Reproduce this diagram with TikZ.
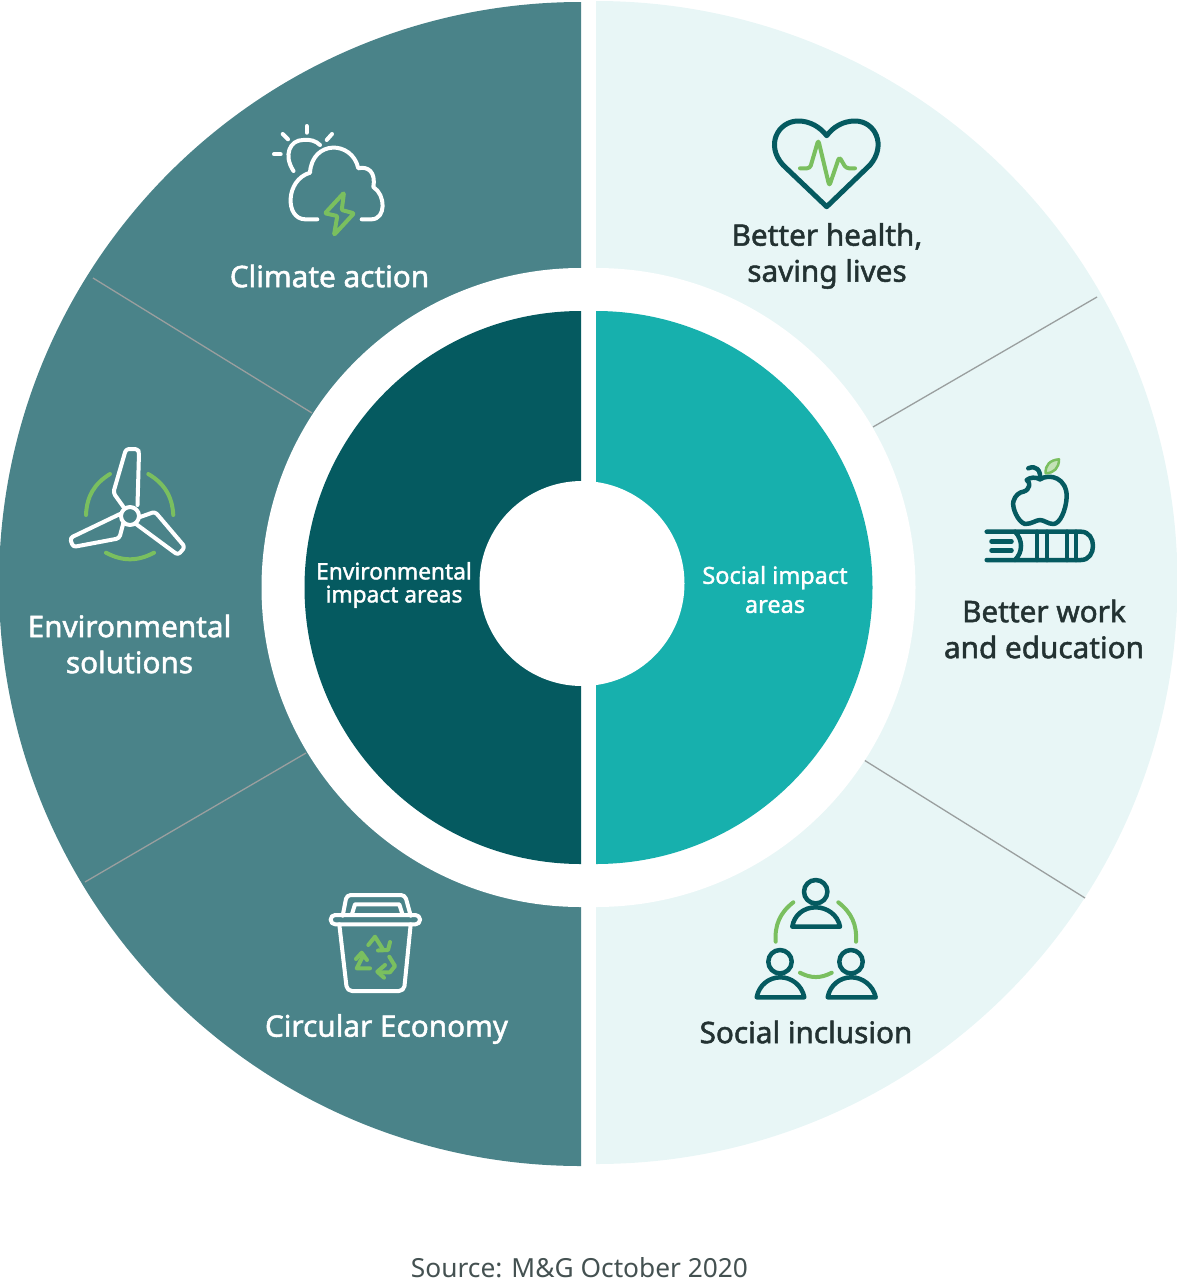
\documentclass[tikz,border=0pt]{standalone}
\usepackage{fontspec}
\setmainfont{Noto Sans}
\newfontfamily\labelfont{Noto Sans}[FakeBold=1.6]
\definecolor{envouter}{HTML}{4A8389}
\definecolor{envinner}{HTML}{055A60}
\definecolor{socouter}{HTML}{E8F6F6}
\definecolor{socinner}{HTML}{17B0AD}
\definecolor{leaf}{HTML}{7ABF5F}
\definecolor{labeltext}{HTML}{233232}
\definecolor{sepline}{HTML}{9A9F9F}
\tikzset{
  sep/.style={draw=sepline,line width=1.3pt},
  bigtext/.style={font=\labelfont\fontsize{29.7}{36}\selectfont,align=center,text=labeltext},
  smalltext/.style={font=\labelfont\fontsize{22.7}{23}\selectfont,align=center,text=white},
  whiteicon/.style={draw=white,line width=4pt,line cap=round,line join=round},
  darkicon/.style={draw=envinner,line width=4.5pt,line cap=round,line join=round},
  greenicon/.style={draw=leaf,line width=4pt,line cap=round,line join=round},
}
\begin{document}
\begin{tikzpicture}[x=1pt,y=-1pt]
  \useasboundingbox (0,0) rectangle (1177,1280);
  % the two outer halves
  \fill[envouter] (581,2) arc[start angle=-90,end angle=-270,radius=582] -- cycle;
  \fill[socouter] (596,1) arc[start angle=-90,end angle=90,radius=581.5] -- cycle;
  % separators
  \coordinate (ul1) at (93,278);
  \coordinate (ul2) at (312,413);
  \coordinate (ll1) at (85,882);
  \coordinate (ll2) at (306,753);
  \coordinate (ur1) at (1097,297);
  \coordinate (ur2) at (873,427);
  \coordinate (lr1) at (1085,898);
  \coordinate (lr2) at (864,760);
  \draw[sep] (ul1) -- (ul2);
  \draw[sep] (ll1) -- (ll2);
  \draw[sep] (ur1) -- (ur2);
  \draw[sep] (lr1) -- (lr2);
  % white ring
  \fill[white] (581,268) arc[start angle=-90,end angle=-270,radius=319.5] -- cycle;
  \fill[white] (596,268) arc[start angle=-90,end angle=90,radius=319.5] -- cycle;
  \fill[white] (580.5,268) rectangle (596.5,907);
  % inner halves
  \fill[envinner] (581,311) arc[start angle=-90,end angle=-270,radius=276.5] -- cycle;
  \fill[socinner] (596,311) arc[start angle=-90,end angle=90,radius=276.5] -- cycle;
  \fill[white] (582,583.5) circle (102.5);
  % labels
  \node[bigtext,text=white] (climate) at (329.5,276) {Climate action};
  \node[bigtext,text=white] (solutions) at (129.5,644) {Environmental\\solutions};
  \node[bigtext,text=white] (circular) at (386.5,1029) {Circular Economy};
  \node[bigtext] (health) at (827,256) {Better health,\\saving lives};
  \node[bigtext] (work) at (1044,629) {Better work\\and education};
  \node[bigtext] (inclusion) at (806,1032) {Social inclusion};
  \node[smalltext] (envareas) at (394,585) {Environmental\\impact areas};
  \node[smalltext,font=\labelfont\fontsize{23.5}{29}\selectfont] (socareas) at (775,589.5) {Social impact\\areas};
  \node[inner sep=0pt,font=\fontsize{26.3}{28}\selectfont,text=labeltext!85] (source) at (579.5,1268) {Source: M\&G October 2020};
  % climate icon
  \draw[whiteicon] (274,154.3) -- (280.7,154.3);
  \draw[whiteicon] (282.7,134) -- (288,139.3);
  \draw[whiteicon] (306.7,126) -- (306.7,132.7);
  \draw[whiteicon] (332,134) -- (326.7,140);
  \draw[whiteicon] (293.5,171) .. controls (283,155) and (290,140) .. (303,140) .. controls (310,139) and (316,141) .. (320,145);
  \draw[whiteicon] (317.3,219.3) -- (305,219.3) .. controls (285,219) and (285,180) .. (310,172.7)
    .. controls (312,140) and (352,140) .. (358.3,168.3)
    .. controls (368,166) and (376,172) .. (373.3,187)
    .. controls (386,195) and (386,219) .. (371.7,219.3) -- (361.7,219.3);
  \draw[greenicon,rounded corners=1pt] (344,192.7) -- (325,213.3) -- (337.3,216) -- (334,235) -- (354,213.3) -- (341.7,210) -- cycle;
  % health icon
  \draw[darkicon,line width=5pt] (826.7,206.7) -- (783,165) .. controls (765,145) and (778,121) .. (798.3,121)
    .. controls (810,121) and (820,127) .. (826.7,135.7)
    .. controls (833,127) and (843,121) .. (855,121)
    .. controls (875,121) and (887,145) .. (870,165) -- cycle;
  \draw[greenicon,rounded corners=3pt] (800,168.3) -- (810,168.3) -- (818.3,140) -- (829.3,186) -- (839.3,156.7) -- (846,168.3) -- (855,168.3);
  % turbine icon
  \draw[whiteicon] (130,516) circle (9);
  \draw[whiteicon,rounded corners=3pt] (123.5,507) -- (113.3,492.7) -- (126,449) -- (138,449) -- (139,453) -- (137.5,505);
  \draw[whiteicon,rounded corners=3pt] (120,514) -- (70,538) -- (73,547) -- (119.3,538.3) -- (123.3,523.3);
  \draw[whiteicon,rounded corners=3pt] (139.3,517.3) -- (155,511.7) -- (185,547) -- (178,555) -- (136,524);
  \draw[greenicon] (110,474) to[bend right=28] (86,515);
  \draw[greenicon] (148.3,474) to[bend left=28] (173.3,515);
  \draw[greenicon] (106,552.7) to[bend right=28] (154,552.7);
  % apple and book icon
  \draw[darkicon] (1028.3,468.3) .. controls (1036,465) and (1041,470) .. (1040,479.3);
  \draw[darkicon] (1040,479.3) .. controls (1050,473) and (1067,478) .. (1066.7,497)
    .. controls (1066,510) and (1060,524) .. (1053.3,524)
    .. controls (1048,524) and (1044,520) .. (1040,520)
    .. controls (1036,520) and (1032,524) .. (1025,524)
    .. controls (1018,522) and (1012,508) .. (1013.3,501.7)
    .. controls (1015,495) and (1020,492) .. (1023.3,491.7)
    .. controls (1030,490) and (1031,482) .. (1026.7,480)
    .. controls (1030,477) and (1036,477) .. (1040,479.3);
  \draw[greenicon,line width=2.5pt,fill=leaf!45] (1045.7,473.3) .. controls (1045,465) and (1050,460) .. (1059,459.3) .. controls (1059,468) and (1054,473) .. (1045.7,473.3) -- cycle;
  \draw[darkicon] (986.7,531.7) -- (1081,531.7) .. controls (1097,531.7) and (1097,560) .. (1081,560) -- (986.7,560);
  \draw[darkicon] (1015,531.7) .. controls (1023,540) and (1023,552) .. (1015,560);
  \draw[darkicon] (991.5,541.5) -- (1011.5,541.5);
  \draw[darkicon] (991.5,550.5) -- (1011.5,550.5);
  \draw[darkicon] (1037,531.7) -- (1037,560);
  \draw[darkicon] (1047,531.7) -- (1047,560);
  \draw[darkicon] (1067,531.7) -- (1067,560);
  \draw[darkicon] (1076,531.7) -- (1076,560);
  % bin icon
  \draw[whiteicon,rounded corners=4pt] (342.7,915.7) -- (346.7,895) -- (405,895) -- (410.7,915.7);
  \draw[whiteicon] (351.7,915) -- (355,904.3) -- (399.3,904.3) -- (402.7,915);
  \draw[whiteicon,rounded corners=4.5pt] (330.7,915) rectangle (420,924.3);
  \draw[whiteicon,rounded corners=5pt] (339.3,924.3) -- (347,991) -- (404,991) -- (410.7,924.3);
  \draw[greenicon] (368.3,945) -- (375,936.7) -- (383.3,950);
  \draw[greenicon] (378,950.5) -- (388,950) -- (390,942);
  \draw[greenicon] (370,968.3) -- (356.7,968.3) -- (362.7,956.7);
  \draw[greenicon] (356,959) -- (361.7,952.7) -- (367,960);
  \draw[greenicon] (389.3,956.7) -- (395,966) -- (390,972.3) -- (380,972.3);
  \draw[greenicon] (385,965) -- (377.3,971.7) -- (384,977.7);
  % people icon
  \draw[darkicon] (815.7,891.7) circle (11.7);
  \draw[darkicon] (792.3,926.7) -- (840,926.7) .. controls (838,915) and (827,907.3) .. (815.7,907.3) .. controls (804,907.3) and (794,915) .. (792.3,926.7) -- cycle;
  \draw[darkicon] (780,961.7) circle (11.7);
  \draw[darkicon] (756.7,997.3) -- (804.3,997.3) .. controls (802,985) and (791,977.3) .. (780.5,977.3) .. controls (769,977.3) and (759,985) .. (756.7,997.3) -- cycle;
  \draw[darkicon] (851,961.7) circle (11.7);
  \draw[darkicon] (827.7,997.3) -- (875.7,997.3) .. controls (873,985) and (862,977.3) .. (851.5,977.3) .. controls (840,977.3) and (830,985) .. (827.7,997.3) -- cycle;
  \draw[greenicon] (793.3,902.3) to[bend right=28] (775.7,941.7);
  \draw[greenicon] (838.3,902.3) to[bend left=28] (856,941.7);
  \draw[greenicon] (800,972.7) to[bend right=28] (831.7,972.7);
\end{tikzpicture}
\end{document}
